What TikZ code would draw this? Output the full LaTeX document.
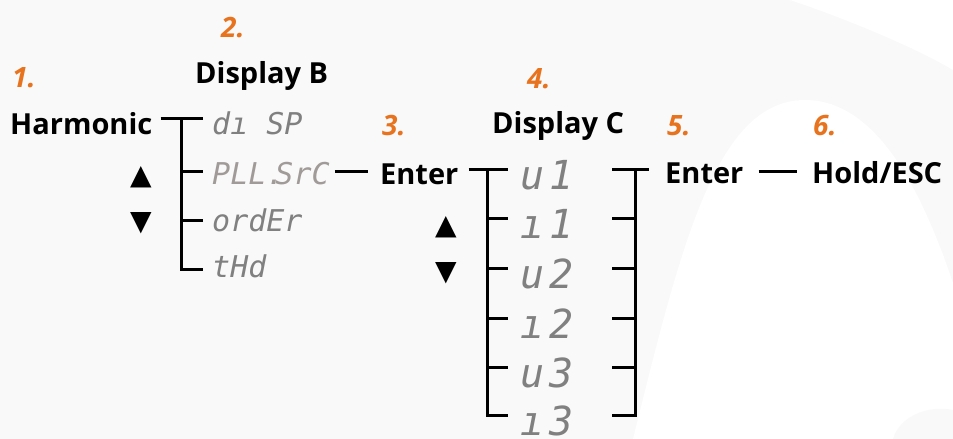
\documentclass[tikz,border=0pt]{standalone}
\usepackage{fontspec}
\setmainfont{Open Sans}
\newfontfamily\segfont{DejaVu Sans Mono}
\newfontfamily\symfont{DejaVu Sans}
\usetikzlibrary{positioning}

\definecolor{stepnum}{RGB}{232,115,30}
\definecolor{segtxt}{RGB}{128,128,128}
\definecolor{segpale}{RGB}{160,154,152}
\definecolor{bgpaper}{RGB}{249,249,249}

\begin{document}
\begin{tikzpicture}[
    x=1pt, y=-1pt,
    wire/.style={line width=3pt},
    key/.style={
      font=\fontsize{29}{32}\selectfont\bfseries,
      inner sep=0pt, anchor=base west},
    num/.style={
      font=\fontsize{28}{30}\selectfont\bfseries\itshape,
      text=stepnum, inner sep=0pt, anchor=base west},
    segB/.style={
      font=\segfont\fontsize{30}{32}\selectfont\itshape,
      text=segtxt, inner sep=0pt, anchor=base west},
    segC/.style={
      font=\segfont\fontsize{40}{44}\selectfont\itshape,
      text=segtxt, inner sep=0pt, anchor=base west},
    arrowkey/.style={font=\symfont\fontsize{28}{30}\selectfont, inner sep=0pt},
]

\useasboundingbox (0,0) rectangle (953,439);

% ---- paper background ----
\fill[bgpaper] (0,0) rectangle (953,439);
\fill[white] (633,439) .. controls (680,250) and (715,100) .. (805,100)
  .. controls (880,100) and (925,200) .. (953,283) -- (953,439) -- cycle;
\fill[bgpaper] (893,439) .. controls (900,415) and (930,405) .. (953,410) -- (953,439) -- cycle;
\fill[white] (790,0) .. controls (850,20) and (920,50) .. (953,70) -- (953,0) -- cycle;

% ---- step numbers ----
\node[num] (n1) at (12,87)  {1.};
\node[num] (n2) at (221,37) {2.};
\node[num] (n3) at (382,135) {3.};
\node[num] (n4) at (527,88) {4.};
\node[num] (n5) at (667,135) {5.};
\node[num] (n6) at (813,135) {6.};

% ---- keys and headings ----
\node[key] (dispB) at (195,83)  {Display B};
\node[key] (dispC) at (492,133) {Display C};
\node[key] (harm)  at (10,134)  {Harmonic};
\node[key] (ent1)  at (380,184) {Enter};
\node[key] (ent2)  at (665,183) {Enter};
\node[key] (hold)  at (812,183) {Hold/ESC};

\node[arrowkey] (upB) at (141,177) {▲};
\node[arrowkey] (dnB) at (141,223) {▼};
\node[arrowkey] (upC) at (446,227) {▲};
\node[arrowkey] (dnC) at (446,273) {▼};

% ---- display B menu ----
\coordinate (bT) at (181,118);
\coordinate (bB) at (181,269);
\coordinate (pll-j) at (181,171);
\coordinate (ord-j) at (181,220);

\node[segB] (disp) at (212,134) {dı SP};
\node[segB, text=segpale] (pll) at (212,184) {PLL.\kern-.3em SrC};
\node[segB] (ord)  at (212,231) {ordEr};
\node[segB] (thd)  at (212,277) {tHd};

\draw[wire] ([xshift=8]harm.east |- bT) -- ([xshift=-9]disp.west |- bT);
\draw[wire] (bT) -- (bB) -- ([xshift=-9]thd.west |- bB);
\draw[wire] (pll-j) -- ([xshift=-9]pll.west |- pll-j);
\draw[wire] (ord-j) -- ([xshift=-9]ord.west |- ord-j);

% ---- PLL.SrC -> Enter ----
\draw[wire] ([xshift=5]pll.east |- pll-j) -- ([xshift=-12]ent1.west |- pll-j);

% ---- display C menu ----
\coordinate (cT) at (487,169);
\coordinate (cB) at (487,415);
\coordinate (dT) at (635,169);
\coordinate (dB) at (635,415);

\foreach \nm/\a/\b/\y in {u1/u/1/169, i1/ı/1/218, u2/u/2/268, i2/ı/2/318, u3/u/3/367, i3/ı/3/415} {
  \coordinate (\nm-j) at (487,\y);
  \node[segC] (\nm) at (520,\y+20) {\a\kern.12em\b};
  \draw[wire] (\nm-j) -- ([xshift=-12]\nm.west |- \nm-j);
  \draw[wire] ([xshift=-23]\nm-j -| dT) -- (\nm-j -| dT);
}

\draw[wire] ([xshift=10]ent1.east |- cT) -- (cT) -- (cB) -- ([xshift=-12]i3.west |- cB);
\draw[wire] (dT) -- ([xshift=-16]ent2.west |- dT);
\draw[wire] (dT) -- (dB) -- ([xshift=-23]dB);

% ---- Enter -> Hold/ESC ----
\draw[wire] ([xshift=15]ent2.east |- pll-j) -- ([xshift=-15]hold.west |- pll-j);

\end{tikzpicture}
\end{document}
